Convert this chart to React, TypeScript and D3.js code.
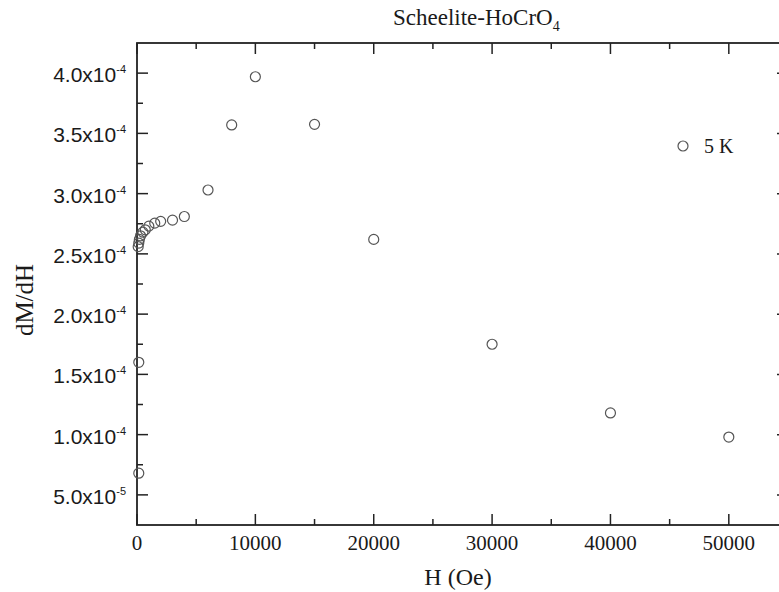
import React from "react";
import * as d3 from "d3";

const fieldOe = [100, 150, 200, 300, 500, 700, 1000, 1500, 2000, 3000, 4000, 6000, 8000, 10000, 15000, 20000, 30000, 40000, 50000, 150, 150];
const dMdH = [2.56e-4, 2.59e-4, 2.62e-4, 2.65e-4, 2.68e-4, 2.70e-4, 2.73e-4, 2.755e-4, 2.77e-4, 2.78e-4, 2.81e-4, 3.03e-4, 3.57e-4, 3.97e-4, 3.575e-4, 2.62e-4, 1.75e-4, 1.18e-4, 0.98e-4, 1.60e-4, 0.68e-4];
const xMajorTicks = [0, 10000, 20000, 30000, 40000, 50000];
const xMinorTicks = [5000, 15000, 25000, 35000, 45000];
const yMajorTicks = [0.5e-4, 1.0e-4, 1.5e-4, 2.0e-4, 2.5e-4, 3.0e-4, 3.5e-4, 4.0e-4];
const yMinorTicks = [0.75e-4, 1.25e-4, 1.75e-4, 2.25e-4, 2.75e-4, 3.25e-4, 3.75e-4];
const yTickMantissa = ["5.0", "1.0", "1.5", "2.0", "2.5", "3.0", "3.5", "4.0"];
const yTickExp = ["-5", "-4", "-4", "-4", "-4", "-4", "-4", "-4"];
const legendLabel = "5 K";

const L = 137, R = 788, T = 43, B = 525;

export default function App() {
  const x = d3.scaleLinear().domain([0, 55000]).range([L, R]);
  const y = d3.scaleLinear().domain([0.25e-4, 4.25e-4]).range([B, T]);
  const axisColor = "#222";
  const textColor = "#1a1a1a";
  const major = 11, minor = 6;
  return (
    <svg width={779} height={592} style={{ position: "absolute", left: 0, top: 0, background: "#fff" }}>
      <rect x={0} y={0} width={779} height={592} fill="#fff" />
      <rect x={L} y={T} width={R - L} height={B - T} fill="none" stroke={axisColor} strokeWidth={1.8} />
      {xMajorTicks.map((t) => (
        <g key={"xm" + t}>
          <line x1={x(t)} x2={x(t)} y1={B} y2={B - major} stroke={axisColor} strokeWidth={1.5} />
          <line x1={x(t)} x2={x(t)} y1={T} y2={T + major} stroke={axisColor} strokeWidth={1.5} />
          <text x={x(t)} y={B + 25} textAnchor="middle" fontFamily="Liberation Serif" fontSize={21} fill={textColor}>{t}</text>
        </g>
      ))}
      {xMinorTicks.map((t) => (
        <g key={"xn" + t}>
          <line x1={x(t)} x2={x(t)} y1={B} y2={B - minor} stroke={axisColor} strokeWidth={1.5} />
          <line x1={x(t)} x2={x(t)} y1={T} y2={T + minor} stroke={axisColor} strokeWidth={1.5} />
        </g>
      ))}
      {yMajorTicks.map((t, i) => (
        <g key={"ym" + i}>
          <line x1={L} x2={L + major} y1={y(t)} y2={y(t)} stroke={axisColor} strokeWidth={1.5} />
          <line x1={R} x2={R - major} y1={y(t)} y2={y(t)} stroke={axisColor} strokeWidth={1.5} />
          <text x={126} y={y(t) + 9} textAnchor="end" fontFamily="Liberation Sans" fontSize={21} fill={textColor}>
            {yTickMantissa[i]}x10
            <tspan dy={-9} fontSize={11}>{yTickExp[i]}</tspan>
          </text>
        </g>
      ))}
      {yMinorTicks.map((t, i) => (
        <g key={"yn" + i}>
          <line x1={L} x2={L + minor} y1={y(t)} y2={y(t)} stroke={axisColor} strokeWidth={1.5} />
          <line x1={R} x2={R - minor} y1={y(t)} y2={y(t)} stroke={axisColor} strokeWidth={1.5} />
        </g>
      ))}
      {fieldOe.map((h, i) => (
        <circle key={"p" + i} cx={x(h)} cy={y(dMdH[i])} r={5} fill="none" stroke="#555" strokeWidth={1.2} />
      ))}
      <circle cx={683} cy={146} r={5} fill="none" stroke="#555" strokeWidth={1.2} />
      <text x={704} y={153} fontFamily="Liberation Serif" fontSize={20} fill={textColor}>{legendLabel}</text>
      <text x={393} y={25} fontFamily="Liberation Serif" fontSize={23} fill={textColor}>
        Scheelite-HoCrO<tspan dy={6} fontSize={14} fill={textColor}>4</tspan>
      </text>
      <text x={458} y={585} textAnchor="middle" fontFamily="Liberation Serif" fontSize={24} fill={textColor}>H (Oe)</text>
      <text transform={`translate(33, 300) rotate(-90)`} textAnchor="middle" fontFamily="Liberation Serif" fontSize={25} fill={textColor}>dM/dH</text>
    </svg>
  );
}
